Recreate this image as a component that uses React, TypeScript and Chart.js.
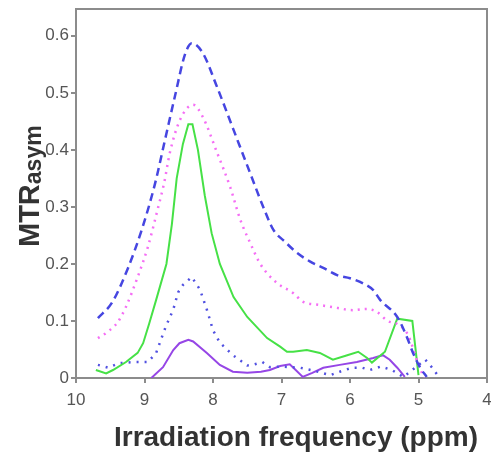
import React, { useEffect, useRef } from 'react';
import { Chart, registerables } from 'chart.js';
Chart.register(...registerables);

const X_TICKS = [10, 9, 8, 7, 6, 5, 4];
const Y_TICKS = [0, 0.1, 0.2, 0.3, 0.4, 0.5, 0.6];
const X_TITLE = 'Irradiation frequency (ppm)';
const Y_TITLE_MAIN = 'MTR';
const Y_TITLE_SUB = 'asym';

// Blue dashed
const blueDashedX = [9.68, 9.47, 9.24, 9.04, 8.85, 8.7, 8.55, 8.41, 8.31, 8.15, 7.94, 7.7, 7.46, 7.24, 7.12, 6.95, 6.77, 6.58, 6.39, 6.18, 6.0, 5.81, 5.66, 5.56, 5.31, 5.17, 5.08, 4.98, 4.88];
const blueDashedY = [0.105, 0.133, 0.193, 0.26, 0.339, 0.418, 0.497, 0.567, 0.587, 0.57, 0.51, 0.435, 0.36, 0.292, 0.26, 0.239, 0.219, 0.204, 0.193, 0.18, 0.175, 0.166, 0.154, 0.137, 0.107, 0.072, 0.044, 0.019, 0.002];

// Magenta dotted
const magentaX = [9.68, 9.56, 9.39, 9.27, 9.1, 8.95, 8.82, 8.71, 8.63, 8.48, 8.29, 8.15, 7.94, 7.75, 7.6, 7.45, 7.31, 7.07, 6.83, 6.69, 6.44, 6.19, 5.96, 5.75, 5.61, 5.45, 5.3, 5.15, 5.02, 4.92];
const magentaY = [0.07, 0.079, 0.098, 0.125, 0.177, 0.23, 0.29, 0.344, 0.395, 0.453, 0.479, 0.458, 0.395, 0.335, 0.277, 0.235, 0.2, 0.167, 0.149, 0.134, 0.128, 0.123, 0.119, 0.121, 0.116, 0.1, 0.094, 0.075, 0.03, 0];

// Green solid
const greenX = [9.71, 9.56, 9.46, 9.27, 9.1, 9.02, 8.93, 8.83, 8.68, 8.6, 8.53, 8.44, 8.36, 8.3, 8.22, 8.12, 8.02, 7.9, 7.7, 7.5, 7.21, 7.02, 6.92, 6.83, 6.63, 6.44, 6.25, 6.04, 5.88, 5.75, 5.68, 5.49, 5.31, 5.09, 5.0];
const greenY = [0.014, 0.008, 0.014, 0.028, 0.044, 0.061, 0.096, 0.137, 0.2, 0.27, 0.35, 0.41, 0.445, 0.445, 0.4, 0.32, 0.254, 0.2, 0.142, 0.107, 0.07, 0.055, 0.046, 0.046, 0.049, 0.044, 0.032, 0.04, 0.046, 0.035, 0.027, 0.046, 0.104, 0.1, 0.005];

// Blue dotted
const blueDottedX = [9.68, 9.53, 9.37, 9.17, 8.95, 8.83, 8.69, 8.58, 8.51, 8.44, 8.31, 8.19, 8.09, 8.0, 7.9, 7.71, 7.5, 7.42, 7.28, 7.17, 7.0, 6.73, 6.5, 6.29, 6.15, 5.97, 5.82, 5.71, 5.55, 5.39, 5.22, 5.05, 4.9, 4.8, 4.69];
const blueDottedY = [0.023, 0.018, 0.026, 0.028, 0.028, 0.044, 0.09, 0.12, 0.15, 0.163, 0.177, 0.155, 0.12, 0.084, 0.062, 0.04, 0.022, 0.023, 0.028, 0.019, 0.02, 0.018, 0.012, 0.005, 0.011, 0.018, 0.018, 0.014, 0.02, 0.014, 0.002, 0.018, 0.032, 0.018, 0];

// Purple solid
const purpleX = [8.9, 8.73, 8.58, 8.49, 8.36, 8.29, 8.09, 7.9, 7.71, 7.5, 7.3, 7.17, 7.02, 6.88, 6.8, 6.69, 6.55, 6.39, 6.15, 5.9, 5.66, 5.52, 5.42, 5.31, 5.2];
const purpleY = [0, 0.019, 0.049, 0.061, 0.067, 0.064, 0.044, 0.023, 0.011, 0.009, 0.011, 0.014, 0.021, 0.024, 0.015, 0.002, 0.009, 0.018, 0.023, 0.028, 0.035, 0.04, 0.032, 0.018, 0.002];

const pts = (xs: number[], ys: number[]) => xs.map((x, i) => ({ x, y: ys[i] }));

const FONT = '"Liberation Sans", Arial, sans-serif';

const decorPlugin = {
  id: 'decor',
  afterDraw(chart: any) {
    const { ctx, chartArea: a } = chart;
    ctx.save();
    ctx.strokeStyle = '#8c8c8c';
    ctx.lineWidth = 2;
    ctx.beginPath();
    ctx.moveTo(a.left, a.top);
    ctx.lineTo(a.right, a.top);
    ctx.lineTo(a.right, a.bottom);
    ctx.stroke();

    ctx.fillStyle = '#333333';
    ctx.textBaseline = 'alphabetic';
    ctx.textAlign = 'center';
    ctx.font = `bold 28px ${FONT}`;
    ctx.fillText(X_TITLE, 296, 446);

    ctx.translate(39, 247);
    ctx.rotate(-Math.PI / 2);
    ctx.textAlign = 'left';
    ctx.font = `bold 29px ${FONT}`;
    ctx.fillText(Y_TITLE_MAIN, 0, 0);
    const w = ctx.measureText(Y_TITLE_MAIN).width;
    ctx.font = `bold 23px ${FONT}`;
    ctx.fillText(Y_TITLE_SUB, w, 2);
    ctx.restore();
  },
};

export default function App() {
  const ref = useRef<HTMLCanvasElement>(null);
  useEffect(() => {
    if (!ref.current) return;
    const mk = (xs: number[], ys: number[], color: string, dash: number[], width: number, smooth: boolean) => ({
      data: pts(xs, ys),
      borderColor: color,
      borderDash: dash,
      borderWidth: width,
      pointRadius: 0,
      fill: false,
      tension: smooth ? 0.4 : 0,
      cubicInterpolationMode: smooth ? 'monotone' : 'default',
    });
    const chart = new Chart(ref.current, {
      type: 'line',
      data: {
        datasets: [
          mk(blueDashedX, blueDashedY, 'rgb(70,70,225)', [8, 5], 2.5, true),
          mk(magentaX, magentaY, 'rgb(245,110,245)', [2, 5], 2.5, true),
          mk(greenX, greenY, 'rgb(70,225,70)', [], 2, false),
          mk(blueDottedX, blueDottedY, 'rgb(80,80,225)', [2, 6], 2.5, false),
          mk(purpleX, purpleY, 'rgb(150,70,230)', [], 2, false),
        ] as any,
      },
      options: {
        animation: false,
        responsive: false,
        devicePixelRatio: 1,
        layout: { padding: { top: 9, right: 4, left: 0, bottom: 0 } },
        plugins: { legend: { display: false }, tooltip: { enabled: false } },
        scales: {
          x: {
            type: 'linear',
            reverse: true,
            min: 4,
            max: 10,
            afterBuildTicks: (s: any) => { s.ticks = X_TICKS.map((v) => ({ value: v })); },
            afterFit: (s: any) => { s.height = 77; s.paddingLeft = 0; s.paddingRight = 0; },
            ticks: {
              callback: (v: any) => String(v),
              font: { family: FONT, size: 17 },
              color: '#555555',
              padding: 7,
              maxRotation: 0,
            },
            grid: { drawOnChartArea: false, drawTicks: true, tickLength: 5, color: '#8c8c8c', lineWidth: 2 },
            border: { color: '#8c8c8c', width: 2 },
          },
          y: {
            type: 'linear',
            min: 0,
            max: 0.647,
            afterBuildTicks: (s: any) => { s.ticks = Y_TICKS.map((v) => ({ value: v })); },
            afterFit: (s: any) => { s.width = 76; s.paddingTop = 0; s.paddingBottom = 0; },
            ticks: {
              callback: (v: any) => (v === 0 ? '0' : Number(v).toFixed(1)),
              font: { family: FONT, size: 17 },
              color: '#555555',
              padding: 2,
            },
            grid: { drawOnChartArea: false, drawTicks: true, tickLength: 5, color: '#8c8c8c', lineWidth: 2 },
            border: { color: '#8c8c8c', width: 2 },
          },
        },
      } as any,
      plugins: [decorPlugin],
    });
    return () => chart.destroy();
  }, []);
  return (
    <div style={{ position: 'fixed', left: 0, top: 0, width: 491, height: 455, background: '#ffffff' }}>
      <canvas ref={ref} width={491} height={455} style={{ width: 491, height: 455 }} />
    </div>
  );
}
